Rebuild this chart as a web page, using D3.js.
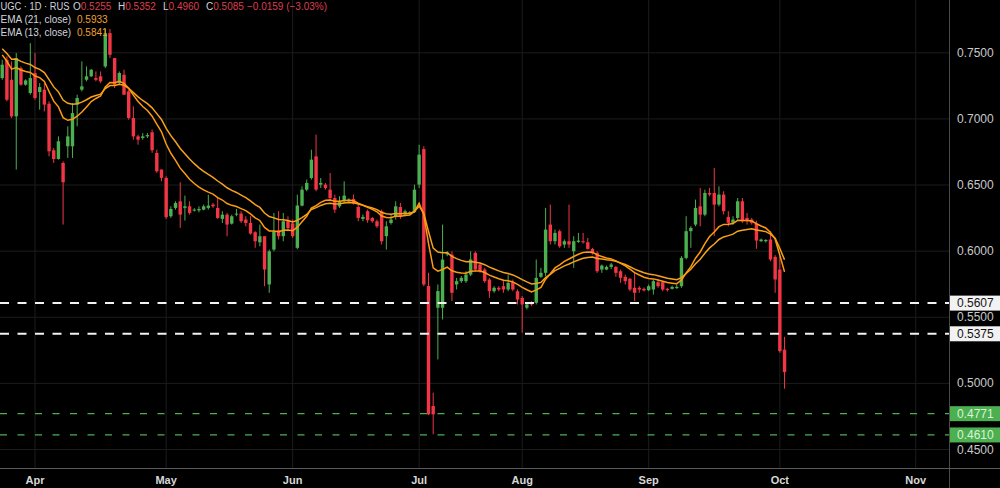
<!DOCTYPE html>
<html lang="en">
<head>
<meta charset="UTF-8">
<title>UGC 1D candles</title>
<script src="https://d3js.org/d3.v7.min.js"></script>
<style>
  body { margin: 0; background: #000; }
  svg { display: block; font-family: "Liberation Sans", Arial, sans-serif; }
</style>
</head>
<body>
<div id="chart"></div>
<script>
// daily bars, first bar is 7 sessions before the April open
const open = [
  0.7309, 0.7447, 0.7296, 0.7019, 0.7384, 0.7259, 0.7196, 0.7347, 0.7203, 0.7221,
  0.7115, 0.6763, 0.6697, 0.6667, 0.6793, 0.6793, 0.7108, 0.7221, 0.7296, 0.7322,
  0.7309, 0.7322, 0.7397, 0.7649, 0.7460, 0.7271, 0.7334, 0.7208, 0.7007, 0.6868,
  0.6856, 0.6868, 0.6899, 0.6743, 0.6617, 0.6554, 0.6264, 0.6327, 0.6377, 0.6327,
  0.6339, 0.6309, 0.6309, 0.6314, 0.6327, 0.6352, 0.6327, 0.6244, 0.6276, 0.6208,
  0.6276, 0.6284, 0.6239, 0.6213, 0.6143, 0.6067, 0.6113, 0.5748, 0.6012, 0.6158,
  0.6113, 0.6233, 0.6210, 0.6025, 0.6344, 0.6465, 0.6553, 0.6717, 0.6503, 0.6503,
  0.6465, 0.6402, 0.6339, 0.6377, 0.6377, 0.6395, 0.6334, 0.6244, 0.6302, 0.6251,
  0.6226, 0.6302, 0.6113, 0.6213, 0.6259, 0.6334, 0.6277, 0.6284, 0.6294, 0.6503,
  0.6772, 0.5736, 0.4829, 0.5572, 0.5572, 0.5975, 0.5974, 0.5748, 0.5773, 0.5773,
  0.5823, 0.5987, 0.5899, 0.5861, 0.5785, 0.5697, 0.5723, 0.5735, 0.5710, 0.5765,
  0.5697, 0.5647, 0.5572, 0.5609, 0.5609, 0.5806, 0.5836, 0.6201, 0.6075, 0.6151,
  0.6050, 0.6075, 0.5999, 0.6070, 0.6075, 0.6067, 0.6017, 0.5987, 0.5861, 0.5861,
  0.5881, 0.5881, 0.5848, 0.5806, 0.5791, 0.5723, 0.5723, 0.5715, 0.5705, 0.5710,
  0.5765, 0.5765, 0.5715, 0.5715, 0.5720, 0.5735, 0.5949, 0.6151, 0.6201, 0.6339,
  0.6276, 0.6440, 0.6440, 0.6352, 0.6428, 0.6259, 0.6214, 0.6251, 0.6377, 0.6251,
  0.6239, 0.6207, 0.6075, 0.6075, 0.6088, 0.5957, 0.5861, 0.5255
];
const high = [
  0.7447, 0.7473, 0.7435, 0.7498, 0.7397, 0.7300, 0.7573, 0.7498, 0.7271, 0.7271,
  0.7133, 0.6780, 0.6868, 0.6679, 0.6944, 0.7120, 0.7183, 0.7435, 0.7397, 0.7377,
  0.7359, 0.7359, 0.7680, 0.7680, 0.7460, 0.7359, 0.7372, 0.7221, 0.7095, 0.6881,
  0.6893, 0.6893, 0.6919, 0.6768, 0.6617, 0.6566, 0.6339, 0.6377, 0.6521, 0.6420,
  0.6377, 0.6325, 0.6339, 0.6352, 0.6427, 0.6365, 0.6402, 0.6302, 0.6289, 0.6276,
  0.6319, 0.6302, 0.6264, 0.6264, 0.6151, 0.6201, 0.6113, 0.6012, 0.6289, 0.6302,
  0.6289, 0.6264, 0.6239, 0.6427, 0.6490, 0.6541, 0.6767, 0.6881, 0.6553, 0.6516,
  0.6591, 0.6427, 0.6415, 0.6528, 0.6400, 0.6428, 0.6352, 0.6277, 0.6314, 0.6259,
  0.6239, 0.6314, 0.6226, 0.6277, 0.6377, 0.6365, 0.6314, 0.6302, 0.6503, 0.6805,
  0.6793, 0.5836, 0.4930, 0.5748, 0.6201, 0.6000, 0.5999, 0.5798, 0.5811, 0.5848,
  0.5999, 0.5999, 0.5911, 0.5874, 0.5798, 0.5735, 0.5735, 0.5785, 0.5823, 0.5785,
  0.5710, 0.5660, 0.5609, 0.5622, 0.5937, 0.5874, 0.6327, 0.6352, 0.6163, 0.6163,
  0.6088, 0.6352, 0.6113, 0.6138, 0.6138, 0.6100, 0.6025, 0.5999, 0.5899, 0.5891,
  0.5911, 0.5886, 0.5861, 0.5823, 0.5798, 0.5836, 0.5735, 0.5725, 0.5748, 0.5785,
  0.5785, 0.5773, 0.5723, 0.5740, 0.5748, 0.5962, 0.6264, 0.6188, 0.6390, 0.6478,
  0.6465, 0.6478, 0.6629, 0.6490, 0.6453, 0.6302, 0.6264, 0.6402, 0.6402, 0.6289,
  0.6251, 0.6230, 0.6095, 0.6090, 0.6150, 0.5970, 0.5962, 0.5352
];
const low = [
  0.7296, 0.7133, 0.7007, 0.6617, 0.7251, 0.7251, 0.7183, 0.7145, 0.7070, 0.7057,
  0.6717, 0.6667, 0.6692, 0.6201, 0.6705, 0.6705, 0.6944, 0.7208, 0.7284, 0.7317,
  0.7284, 0.7271, 0.7384, 0.7460, 0.7233, 0.7259, 0.7183, 0.6994, 0.6843, 0.6805,
  0.6843, 0.6856, 0.6743, 0.6592, 0.6529, 0.6244, 0.6251, 0.6314, 0.6176, 0.6231,
  0.6276, 0.6300, 0.6294, 0.6309, 0.6314, 0.6327, 0.6244, 0.6213, 0.6113, 0.6201,
  0.6264, 0.6213, 0.6188, 0.6125, 0.6025, 0.6037, 0.5735, 0.5685, 0.5999, 0.6088,
  0.6075, 0.6150, 0.6100, 0.6015, 0.6339, 0.6453, 0.6541, 0.6453, 0.6478, 0.6465,
  0.6377, 0.6289, 0.6327, 0.6365, 0.6370, 0.6352, 0.6226, 0.6226, 0.6214, 0.6214,
  0.6176, 0.6050, 0.6012, 0.6201, 0.6239, 0.6244, 0.6264, 0.6277, 0.6289, 0.6478,
  0.5735, 0.4760, 0.4615, 0.5181, 0.5483, 0.5962, 0.5622, 0.5710, 0.5760, 0.5760,
  0.5811, 0.5848, 0.5836, 0.5760, 0.5647, 0.5685, 0.5697, 0.5685, 0.5697, 0.5697,
  0.5597, 0.5383, 0.5559, 0.5584, 0.5597, 0.5798, 0.5811, 0.6050, 0.6050, 0.6025,
  0.6025, 0.6025, 0.5874, 0.6063, 0.6057, 0.6012, 0.5974, 0.5836, 0.5836, 0.5856,
  0.5866, 0.5806, 0.5760, 0.5748, 0.5697, 0.5622, 0.5685, 0.5695, 0.5697, 0.5672,
  0.5723, 0.5697, 0.5695, 0.5710, 0.5715, 0.5723, 0.5937, 0.6025, 0.6188, 0.6188,
  0.6264, 0.6415, 0.6113, 0.6339, 0.6277, 0.6188, 0.6201, 0.6239, 0.6214, 0.6201,
  0.6201, 0.6018, 0.6070, 0.6065, 0.5924, 0.5685, 0.5232, 0.4960
];
const close = [
  0.7410, 0.7145, 0.7019, 0.7460, 0.7259, 0.7291, 0.7309, 0.7158, 0.7241, 0.7108,
  0.6755, 0.6697, 0.6831, 0.6521, 0.6868, 0.7044, 0.7158, 0.7246, 0.7322, 0.7372,
  0.7296, 0.7284, 0.7649, 0.7485, 0.7259, 0.7347, 0.7183, 0.7007, 0.6868, 0.6843,
  0.6868, 0.6878, 0.6763, 0.6604, 0.6554, 0.6257, 0.6319, 0.6364, 0.6276, 0.6339,
  0.6289, 0.6314, 0.6319, 0.6339, 0.6344, 0.6339, 0.6251, 0.6276, 0.6201, 0.6264,
  0.6284, 0.6226, 0.6213, 0.6133, 0.6075, 0.6113, 0.5861, 0.5999, 0.6150, 0.6113,
  0.6226, 0.6175, 0.6113, 0.6345, 0.6465, 0.6516, 0.6692, 0.6465, 0.6516, 0.6478,
  0.6402, 0.6314, 0.6377, 0.6420, 0.6390, 0.6360, 0.6251, 0.6259, 0.6234, 0.6226,
  0.6188, 0.6075, 0.6188, 0.6239, 0.6339, 0.6259, 0.6302, 0.6294, 0.6465, 0.6730,
  0.5748, 0.4766, 0.4766, 0.5698, 0.5936, 0.5990, 0.5685, 0.5773, 0.5798, 0.5823,
  0.5937, 0.5861, 0.5848, 0.5773, 0.5697, 0.5723, 0.5710, 0.5710, 0.5760, 0.5710,
  0.5634, 0.5597, 0.5597, 0.5597, 0.5798, 0.5836, 0.6163, 0.6075, 0.6138, 0.6037,
  0.6075, 0.6050, 0.6075, 0.6080, 0.6067, 0.6017, 0.5982, 0.5848, 0.5891, 0.5881,
  0.5899, 0.5836, 0.5798, 0.5773, 0.5710, 0.5685, 0.5710, 0.5703, 0.5735, 0.5773,
  0.5735, 0.5710, 0.5705, 0.5730, 0.5730, 0.5949, 0.6151, 0.6176, 0.6327, 0.6276,
  0.6440, 0.6428, 0.6352, 0.6428, 0.6302, 0.6214, 0.6239, 0.6377, 0.6226, 0.6226,
  0.6214, 0.6080, 0.6088, 0.6085, 0.5937, 0.5786, 0.5244, 0.5085
];

// month labels and the bar index where each month starts (Nov is projected)
const monthLabels = ["Apr", "May", "Jun", "Jul", "Aug", "Sep", "Oct", "Nov"];
const monthBars = [7, 35, 62, 89, 111, 138, 166, 195];

const priceTicks = [0.45, 0.50, 0.55, 0.60, 0.65, 0.70, 0.75];
const whiteLevels = [0.5607, 0.5375];
const greenLevels = [0.4771, 0.4610];

// EMA values just before the first visible bar at the left edge
const ema21Prior = 0.7542;
const ema13Prior = 0.7497;
const emaNames = ["EMA (21, close)", "EMA (13, close)"];
const emaLegendValues = ["0.5933", "0.5841"];

const width = 1000, height = 488;
const plotRight = 949, plotBottom = 468;
const up = "#4caf50", down = "#f23645";

const svg = d3.select("#chart").append("svg")
  .attr("width", width)
  .attr("height", height)
  .style("background", "#000");

const x = d3.scaleLinear()
  .domain([monthBars[0], monthBars[monthBars.length - 1]])
  .range([35, 915.7]);
const y = d3.scaleLinear().domain([0.45, 0.75]).range([449.5, 52.8]);

svg.append("defs").append("clipPath").attr("id", "plot")
  .append("rect").attr("width", plotRight).attr("height", plotBottom);

// grid
svg.append("g").selectAll("line").data(priceTicks).join("line")
  .attr("x1", 0).attr("x2", plotRight)
  .attr("y1", d => y(d)).attr("y2", d => y(d))
  .attr("stroke", "#1c1c1c");
svg.append("g").selectAll("line").data(monthBars).join("line")
  .attr("x1", d => x(d)).attr("x2", d => x(d))
  .attr("y1", 0).attr("y2", plotBottom)
  .attr("stroke", "#1c1c1c");

const bars = close.map((c, i) => ({ i, o: open[i], h: high[i], l: low[i], c }));
const plot = svg.append("g").attr("clip-path", "url(#plot)");

plot.selectAll(".wick").data(bars).join("line")
  .attr("class", "wick")
  .attr("x1", d => x(d.i)).attr("x2", d => x(d.i))
  .attr("y1", d => y(d.h)).attr("y2", d => y(d.l))
  .attr("stroke", d => d.c >= d.o ? up : down)
  .attr("stroke-width", 1);

plot.selectAll(".body").data(bars).join("rect")
  .attr("class", "body")
  .attr("x", d => x(d.i) - 1.7)
  .attr("width", 3.4)
  .attr("y", d => y(Math.max(d.o, d.c)))
  .attr("height", d => Math.max(1, Math.abs(y(d.o) - y(d.c))))
  .attr("fill", d => d.c >= d.o ? up : down);

// EMA lines
function ema(values, period, prior) {
  const k = 2 / (period + 1);
  let prev = prior;
  return values.map(v => (prev = prev + k * (v - prev)));
}
const line = d3.line().x((d, i) => x(i)).y(d => y(d));
plot.append("path").datum(ema(close, 21, ema21Prior))
  .attr("d", line).attr("fill", "none")
  .attr("stroke", "#f7a21b").attr("stroke-width", 1.5);
plot.append("path").datum(ema(close, 13, ema13Prior))
  .attr("d", line).attr("fill", "none")
  .attr("stroke", "#ff9a10").attr("stroke-width", 1.5);

// horizontal levels
plot.selectAll(".wl").data(whiteLevels).join("line")
  .attr("x1", 0).attr("x2", plotRight)
  .attr("y1", d => y(d)).attr("y2", d => y(d))
  .attr("stroke", "#f2f2f2").attr("stroke-width", 2)
  .attr("stroke-dasharray", "9 8.5");
plot.selectAll(".gl").data(greenLevels).join("line")
  .attr("x1", 0).attr("x2", plotRight)
  .attr("y1", d => y(d)).attr("y2", d => y(d))
  .attr("stroke", up).attr("stroke-width", 1.3)
  .attr("stroke-dasharray", "7 10.5");

// axis frame
svg.append("line").attr("x1", plotRight + 0.5).attr("x2", plotRight + 0.5)
  .attr("y1", 0).attr("y2", height).attr("stroke", "#4a4a4a");
svg.append("line").attr("x1", 0).attr("x2", width)
  .attr("y1", plotBottom + 0.5).attr("y2", plotBottom + 0.5).attr("stroke", "#5a5a5a");

const fmt = d3.format(".4f");

svg.append("g").selectAll("text").data(priceTicks).join("text")
  .attr("x", 957).attr("y", d => y(d) + 4)
  .attr("fill", "#c9c9c9").attr("font-size", 12)
  .text(d => fmt(d));

const levelBoxes = whiteLevels.map(v => ({ v, bg: "#f2f2f2", fg: "#131313" }))
  .concat(greenLevels.map(v => ({ v, bg: up, fg: "#daf3db" })));
const boxes = svg.append("g").selectAll("g").data(levelBoxes).join("g");
boxes.append("rect")
  .attr("x", plotRight + 1).attr("y", d => y(d.v) - 7.5)
  .attr("width", width - plotRight - 1).attr("height", 15)
  .attr("fill", d => d.bg);
boxes.append("text")
  .attr("x", 957).attr("y", d => y(d.v) + 4)
  .attr("fill", d => d.fg).attr("font-size", 12)
  .text(d => fmt(d.v));

svg.append("g").selectAll("text").data(monthLabels).join("text")
  .attr("x", (d, i) => x(monthBars[i])).attr("y", 484)
  .attr("text-anchor", "middle")
  .attr("fill", "#d8d8d8").attr("font-size", 11).attr("font-weight", "bold")
  .text(d => d);

// legend
const last = close.length - 1;
const change = close[last] - close[last - 1];
const legend = svg.append("g").attr("font-size", 10);
legend.append("text").attr("x", 0.5).attr("y", 9.5).attr("fill", "#d1d4dc")
  .attr("textLength", 69).attr("lengthAdjust", "spacingAndGlyphs")
  .text("UGC · 1D · RUS");
const ohlc = [["O", open[last], 73], ["H", high[last], 118], ["L", low[last], 163], ["C", close[last], 206]];
ohlc.forEach(([k, v, px]) => {
  const t = legend.append("text").attr("x", px).attr("y", 9.5);
  t.append("tspan").attr("fill", "#d1d4dc").text(k);
  t.append("tspan").attr("fill", "#dc3f4e").text(fmt(v));
});
legend.append("text").attr("x", 247).attr("y", 9.5).attr("fill", "#dc3f4e")
  .text(`${fmt(change)} (${d3.format(".2f")(change / close[last - 1] * 100)}%)`);

emaNames.forEach((name, i) => {
  const yy = 22.8 + i * 13.4;
  legend.append("text").attr("x", 0.5).attr("y", yy).attr("fill", "#d1d4dc").text(name);
  legend.append("text").attr("x", 77).attr("y", yy).attr("fill", "#f0a030").text(emaLegendValues[i]);
});
</script>
</body>
</html>
